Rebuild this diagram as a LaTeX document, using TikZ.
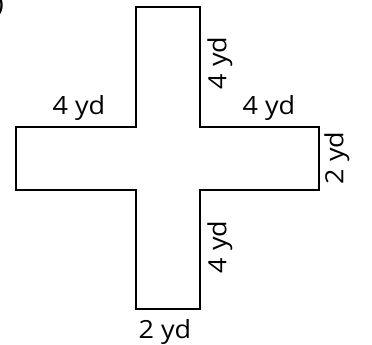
\documentclass[tikz,border=0pt]{standalone}
\usepackage{fontspec}
\setmainfont{Open Sans}[FakeStretch=1.08]
\begin{document}
\begin{tikzpicture}[x=1pt,y=-1pt,
  lbl/.style={font=\fontsize{25}{28}\selectfont, inner sep=0pt},
  shapeline/.style={line width=2pt, line join=miter}]
\useasboundingbox (0,0) rectangle (372,345);
\draw[shapeline] (136,7) coordinate (p1) -- (200,7) -- (200,127) -- (319,127) -- (319,190) -- (200,190) -- (200,309) -- (136,309) -- (136,190) -- (16,190) -- (16,127) -- (136,127) -- cycle;
\node[lbl, anchor=base] (l1) at (79,114) {4 yd};
\node[lbl, anchor=base] (l2) at (269,114) {4 yd};
\node[lbl, rotate=90] (l3) at (220,63) {4 yd};
\node[lbl, rotate=90] (l4) at (220,247) {4 yd};
\node[lbl, rotate=90] (l5) at (337,158) {2 yd};
\node[lbl, anchor=base] (l6) at (165,338) {2 yd};
\node[lbl, anchor=base east] (l0) at (4,13) {)};
\end{tikzpicture}
\end{document}
